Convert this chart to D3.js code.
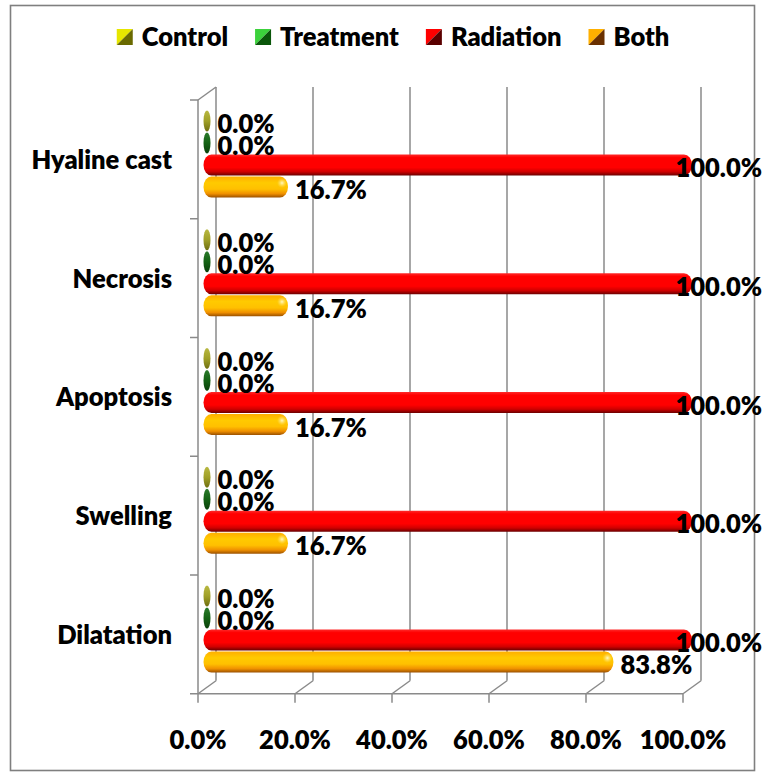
<!DOCTYPE html>
<html><head><meta charset="utf-8">
<script src="https://cdn.jsdelivr.net/npm/d3@7"></script>
<style>html,body{margin:0;padding:0;background:#fff;}svg{display:block;}</style>
</head><body>
<script>
const categories = ["Hyaline cast","Necrosis","Apoptosis","Swelling","Dilatation"];
const seriesNames = ["Control","Treatment","Radiation","Both"];
const control   = [0,0,0,0,0];
const treatment = [0,0,0,0,0];
const radiation = [100,100,100,100,100];
const both      = [16.7,16.7,16.7,16.7,83.8];
const xTicks = [0,20,40,60,80,100];
const tickLabels = ["0.0%","20.0%","40.0%","60.0%","80.0%","100.0%"];

const W = 765, H = 778;
const FONT = "Lato, 'Open Sans', sans-serif";
const FW = 800;
const FS = 25.5;
const svg = d3.select("body").append("svg").attr("width", W).attr("height", H);
const defs = svg.append("defs");

// border
svg.append("rect").attr("x",10.5).attr("y",5.5).attr("width",744).attr("height",765)
  .attr("fill","#fff").attr("stroke","#7f7f7f").attr("stroke-width",1.6);

// geometry
const DX = 18, DY = -13;
const x = d3.scaleLinear().domain([0,100]).range([198,683]);
const y = d3.scaleBand().domain(categories).range([100,693.75]);
const yIn = d3.scaleBand().domain(seriesNames).range([10,98]);
const xBar = v => x(v) + DX/2;

const grid = svg.append("g").attr("stroke","#8a8a8a").attr("stroke-width",1.5).attr("fill","none");
const y0 = y.range()[0], y1 = y.range()[1];
xTicks.forEach(t => {
  grid.append("line").attr("x1",x(t)+DX).attr("x2",x(t)+DX).attr("y1",y0+DY).attr("y2",y1+DY);
  grid.append("line").attr("x1",x(t)).attr("y1",y1).attr("x2",x(t)+DX).attr("y2",y1+DY);
  grid.append("line").attr("x1",x(t)).attr("x2",x(t)).attr("y1",y1).attr("y2",y1+9);
});
grid.append("line").attr("x1",x(0)-8).attr("x2",x(100)).attr("y1",y1).attr("y2",y1);
grid.append("line").attr("x1",x(0)).attr("x2",x(0)).attr("y1",y0).attr("y2",y1);
grid.append("line").attr("x1",x(0)).attr("y1",y0).attr("x2",x(0)+DX).attr("y2",y0+DY);
categories.forEach(c => {
  grid.append("line").attr("x1",x(0)-8).attr("x2",x(0)).attr("y1",y(c)).attr("y2",y(c));
});

function vgrad(id, stops){
  const g = defs.append("linearGradient").attr("id",id).attr("x1",0).attr("y1",0).attr("x2",0).attr("y2",1);
  stops.forEach(s => g.append("stop").attr("offset",s[0]).attr("stop-color",s[1]));
}
vgrad("gCtrl",[[0,"#b8b840"],[0.5,"#a0a028"],[1,"#6e6e10"]]);
vgrad("gTreat",[[0,"#2a7a2a"],[0.5,"#146214"],[1,"#0a400a"]]);
vgrad("gRad",[[0,"#ff2a2a"],[0.15,"#ff0000"],[0.62,"#ff0000"],[0.82,"#d00000"],[1,"#6a0000"]]);
vgrad("gBoth",[[0,"#ffae00"],[0.3,"#ffca00"],[0.6,"#ffc000"],[0.82,"#f09000"],[1,"#9a5000"]]);
const rg = defs.append("radialGradient").attr("id","gHi");
rg.append("stop").attr("offset",0).attr("stop-color","#fffbd0").attr("stop-opacity",0.95);
rg.append("stop").attr("offset",1).attr("stop-color","#ffe060").attr("stop-opacity",0);

const seriesData = {Control:control, Treatment:treatment, Radiation:radiation, Both:both};
const fills = {Control:"url(#gCtrl)", Treatment:"url(#gTreat)", Radiation:"url(#gRad)", Both:"url(#gBoth)"};

const bars = svg.append("g");
const labels = svg.append("g").attr("font-family",FONT).attr("font-weight",FW).attr("font-size",FS).attr("fill","#000");

categories.forEach((c,i) => {
  seriesNames.forEach(s => {
    const v = seriesData[s][i];
    const top = y(c) + yIn(s);
    const bh = yIn.bandwidth();
    const left = xBar(0) - 3.5;
    const right = Math.max(xBar(v), xBar(0) + 3.5);
    const w = right - left;
    const rx = Math.min(8, w/2);
    bars.append("rect").attr("x",left).attr("y",top+0.5).attr("width",w).attr("height",bh-1)
      .attr("rx",rx).attr("ry",(bh-1)/2).attr("fill",fills[s]);
    if (s === "Both" && v > 0) {
      bars.append("ellipse").attr("cx",right-6).attr("cy",top+7).attr("rx",5).attr("ry",5).attr("fill","url(#gHi)");
    }
  });
});

categories.forEach((c,i) => {
  seriesNames.forEach(s => {
    const v = seriesData[s][i];
    const top = y(c) + yIn(s);
    const cy = top + yIn.bandwidth()/2;
    const t = labels.append("text").attr("y",cy+12).text(v.toFixed(1)+"%");
    const len = t.node().getComputedTextLength();
    const right = Math.max(xBar(v), xBar(0) + 3.5);
    t.attr("x", Math.min(right + 7, 762 - len));
  });
});

const catG = svg.append("g").attr("font-family",FONT).attr("font-weight",FW).attr("font-size",FS).attr("fill","#000").attr("text-anchor","end");
categories.forEach(c => {
  catG.append("text").attr("x",172).attr("y",y(c)+y.bandwidth()/2+9.5).text(c);
});

const xg = svg.append("g").attr("font-family",FONT).attr("font-weight",FW).attr("font-size",FS).attr("fill","#000").attr("text-anchor","middle");
xTicks.forEach((t,k) => {
  xg.append("text").attr("x",x(t)).attr("y",749).text(tickLabels[k]);
});

const legColors = {
  Control:["#e6e600","#6a6a00"], Treatment:["#3cd23c","#0a560a"],
  Radiation:["#ff0000","#5a0000"], Both:["#ffb000","#6a3000"]
};
const leg = svg.append("g");
const items = [];
seriesNames.forEach(s => {
  const g = leg.append("g");
  const sz = 16;
  g.append("path").attr("d",`M0,0H${sz}L0,${sz}Z`).attr("fill",legColors[s][0]);
  g.append("path").attr("d",`M${sz},0V${sz}H0Z`).attr("fill",legColors[s][1]);
  const t = g.append("text").attr("x",25).attr("y",17).attr("font-family",FONT).attr("font-weight",FW).attr("font-size",FS).attr("fill","#000").text(s);
  const len = t.node().getComputedTextLength();
  items.push({g, w: 25 + len});
});
const gap = 27;
const total = d3.sum(items, d => d.w) + gap*(items.length-1);
let startX = 393 - total/2;
items.forEach(it => { it.g.attr("transform",`translate(${startX},29)`); startX += it.w + gap; });
</script>
</body></html>
